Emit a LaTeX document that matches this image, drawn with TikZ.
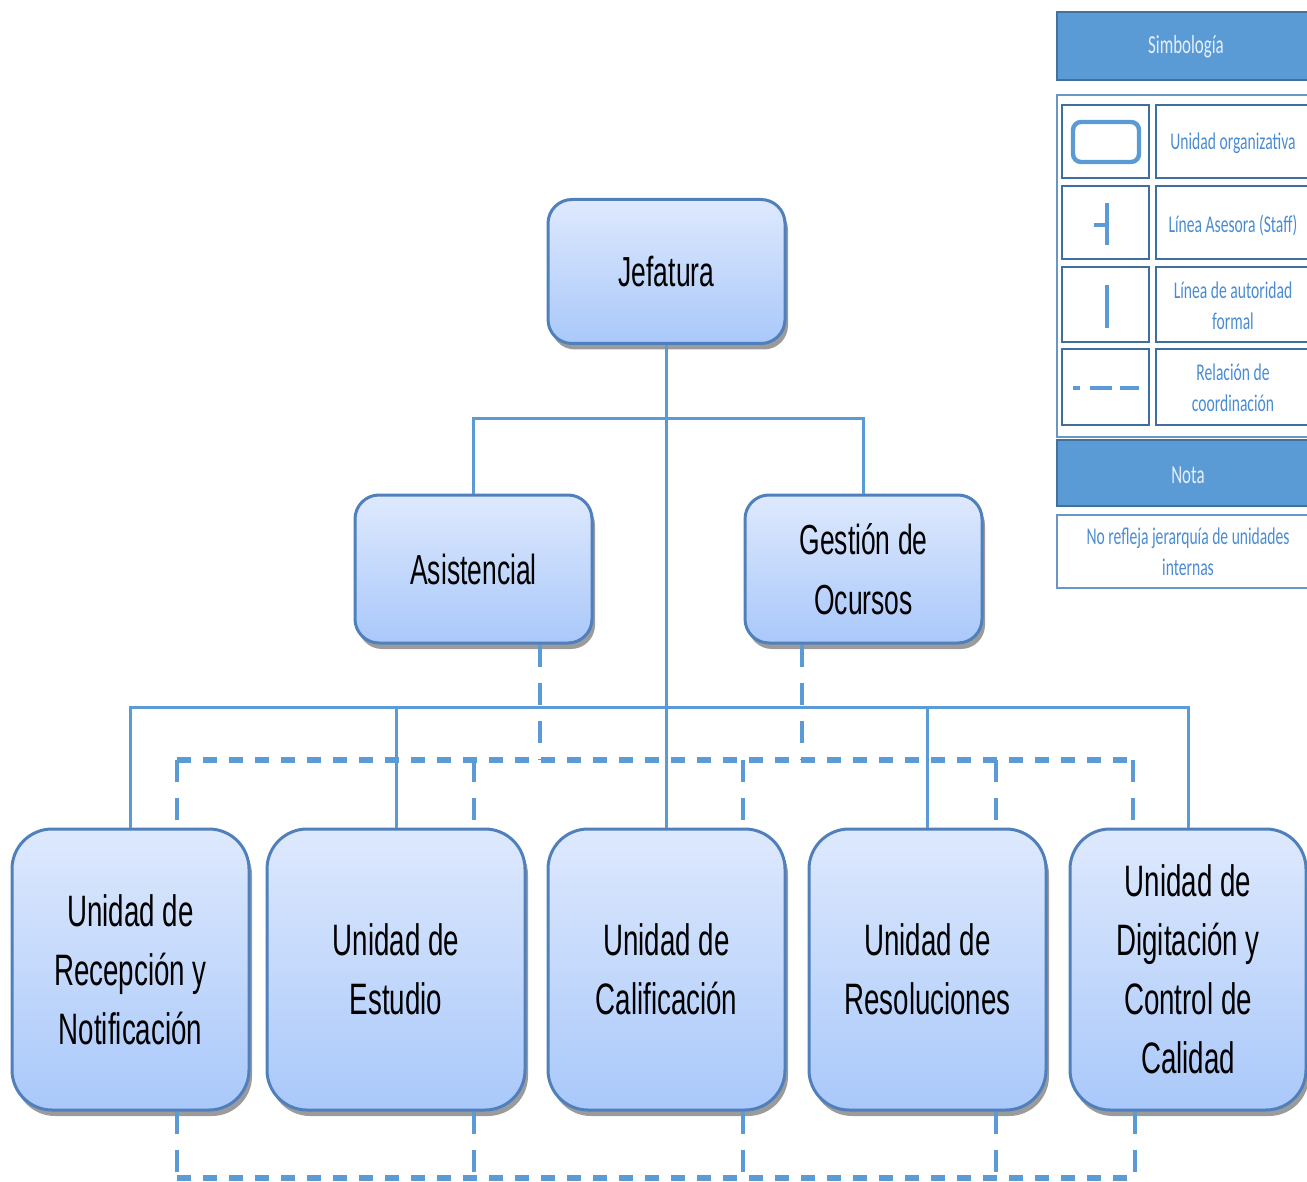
\documentclass[tikz,border=0pt]{standalone}
\usepackage{fontspec}
\setmainfont{Liberation Sans}
\newfontfamily\boxfont[FakeStretch=0.63]{Liberation Sans}
\newfontfamily\legfont[FakeStretch=0.65]{Carlito}
\usetikzlibrary{shadows}
\definecolor{linec}{HTML}{5B9BD5}
\definecolor{boxborder}{HTML}{5080BC}
\definecolor{boxtop}{HTML}{DEE9FD}
\definecolor{boxbot}{HTML}{A9C8FA}
\definecolor{hdrfill}{HTML}{5B9BD5}
\definecolor{hdrdraw}{HTML}{41719C}
\definecolor{celldraw}{HTML}{3F6F9F}
\definecolor{outerdraw}{HTML}{6A96C6}
\definecolor{legtext}{HTML}{4A8CD2}
\definecolor{hdrtext}{HTML}{E6EEF9}
\begin{document}
\begin{tikzpicture}[x=0.5pt,y=-0.5pt,
  unitbox/.style={draw=boxborder, line width=1.5pt, top color=boxtop, bottom color=boxbot,
    align=center, inner sep=0pt,
    drop shadow={shadow xshift=1.5pt, shadow yshift=-3pt, fill=black!60, opacity=0.65}},
  topbox/.style={unitbox, rounded corners=12pt, minimum width=118.5pt, minimum height=72pt,
    font=\boxfont\fontsize{21}{30}\selectfont},
  lowbox/.style={unitbox, rounded corners=20pt, minimum height=140.5pt,
    font=\boxfont\fontsize{22}{29.5}\selectfont},
  auth/.style={draw=linec, line width=1.5pt},
  coordh/.style={draw=linec, line width=3pt, dash pattern=on 7pt off 6pt},
  coordv/.style={draw=linec, line width=2pt, dash pattern=on 11pt off 8pt},
  hdr/.style={fill=hdrfill, draw=hdrdraw, line width=1pt},
  cell/.style={draw=celldraw, line width=1.2pt},
  outer/.style={draw=outerdraw, line width=1.2pt},
  legtxt/.style={text=legtext, align=center, font=\legfont\fontsize{12}{15.5}\selectfont},
  hdrtxt/.style={text=hdrtext, font=\legfont\fontsize{13}{15}\selectfont},
  sym/.style={draw=linec, line width=2pt},
]
\useasboundingbox (0,0) rectangle (1307,1182);
\clip (0,0) rectangle (1307,1182);

% ---------- boxes ----------
\node[topbox] (jef) at (666.5,271.5) {Jefatura};
\node[topbox, minimum height=74pt] (asis) at (473.5,569) {Asistencial};
\node[topbox, minimum height=74pt] (ges) at (863.5,569) {Gestión de\\Ocursos};

\node[lowbox, minimum width=118.5pt] (rec) at (130.5,969.5) {Unidad de\\Recepción y\\Notificación};
\node[lowbox, minimum width=129pt] (est) at (396,969.5) {Unidad de\\Estudio};
\node[lowbox, minimum width=118.5pt] (cal) at (666.5,969.5) {Unidad de\\Calificación};
\node[lowbox, minimum width=118.5pt] (res) at (927.5,969.5) {Unidad de\\Resoluciones};
\node[lowbox, minimum width=118pt] (dig) at (1188,969.5) {Unidad de\\Digitación y\\Control de\\Calidad};

% ---------- formal authority lines ----------
\coordinate (j1) at (666.5,418);
\coordinate (j2) at (666.5,707);
\draw[auth] (jef.south) -- (cal.north);
\draw[auth] (asis.north) |- (j1) -| (ges.north);
\draw[auth] (rec.north) |- (j2) -| (dig.north);
\draw[auth] (est.north) -- (est.north |- j2);
\draw[auth] (res.north) -- (res.north |- j2);

% ---------- coordination (dashed) ----------
\coordinate (c1) at (177,760);
\coordinate (c2) at (474,760);
\coordinate (c3) at (743,760);
\coordinate (c4) at (996,760);
\coordinate (c5) at (1133,760);
\coordinate (ca) at (540,760);
\coordinate (cg) at (802,760);
\draw[coordv] (ca |- asis.south) -- (ca);
\draw[coordv] (cg |- ges.south) -- (cg);
\draw[coordh] (c1) -- (c5);
\foreach \c/\b in {c1/rec,c2/est,c3/cal,c4/res,c5/dig}{
  \draw[coordv] (\c) -- (\c |- \b.north);
}
\coordinate (b1) at (177,1178);
\coordinate (b2) at (474,1178);
\coordinate (b3) at (743,1178);
\coordinate (b4) at (996,1178);
\coordinate (b5) at (1135,1178);
\foreach \c/\b in {b1/rec,b2/est,b3/cal,b4/res,b5/dig}{
  \draw[coordv] (\c |- \b.south) -- (\c);
}
\draw[coordh] (b1) -- (b5);

% ---------- legend ----------
\draw[hdr] (1057,12) rectangle (1316,80);
\node[hdrtxt] (simb) at (1186,47) {Simbología};
\draw[outer] (1057,95) rectangle (1316,437);
\foreach \ya/\yb in {105/178,186/259,267/342,349/425}{
  \draw[cell] (1062,\ya) rectangle (1149,\yb);
  \draw[cell] (1156,\ya) rectangle (1316,\yb);
}
\node[legtxt] (l1) at (1233,143) {Unidad organizativa};
\node[legtxt] (l2) at (1233,225) {Línea Asesora (Staff)};
\node[legtxt] (l3) at (1233,306) {Línea de autoridad\\formal};
\node[legtxt] (l4) at (1233,388) {Relación de\\coordinación};
% symbols
\draw[sym, line width=2.2pt, rounded corners=4pt] (1073,122) rectangle (1139,162);
\draw[sym] (1107,203) -- (1107,245);
\draw[sym] (1094,225) -- (1107,225);
\draw[sym] (1107,285) -- (1107,328);
\draw[sym] (1073,388) -- (1080,388);
\draw[sym] (1090,388) -- (1112,388);
\draw[sym] (1120,388) -- (1139,388);

\draw[hdr] (1057,440) rectangle (1316,506);
\node[hdrtxt] (nota) at (1188,475) {Nota};
\draw[outer] (1057,515) rectangle (1316,588);
\node[legtxt] (ntxt) at (1188,552) {No refleja jerarquía de unidades\\internas};
\end{tikzpicture}
\end{document}
